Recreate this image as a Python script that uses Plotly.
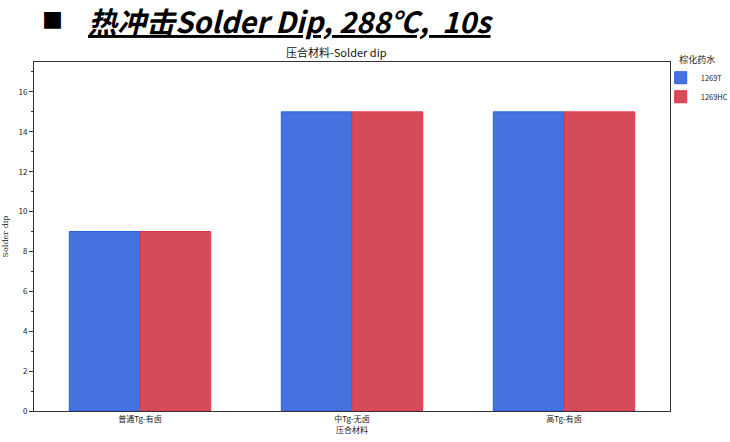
import plotly.graph_objects as go

categories = ["普通Tg-有卤", "中Tg-无卤", "高Tg-有卤"]
series_names = ["1269T", "1269HC"]
values_1269T = [9, 15, 15]
values_1269HC = [9, 15, 15]
fill_colors = ["#4472DE", "#D64B5A"]
line_colors = ["#2A60E6", "#E23444"]

fig = go.Figure()
for name, vals, fc, lc in zip(series_names, [values_1269T, values_1269HC], fill_colors, line_colors):
    fig.add_trace(go.Bar(x=categories, y=vals, name=name,
                         marker=dict(color=fc, line=dict(color=lc, width=1))))

font_cjk = "Noto Sans CJK SC, SimSun, serif"
fig.update_layout(
    width=730, height=442,
    margin=dict(l=34, r=60, t=62, b=31, autoexpand=False),
    plot_bgcolor="white", paper_bgcolor="white",
    barmode="group", bargap=0.333, bargroupgap=0,
    font=dict(family=font_cjk, size=8, color="#222"),
    showlegend=True,
    legend=dict(x=0.9854, y=1.03, xanchor="left", yanchor="top",
                title=dict(text="棕化药水", font=dict(size=9), side="top center"),
                font=dict(size=7.5), tracegroupgap=0, itemwidth=30,
                bgcolor="rgba(0,0,0,0)"),
    xaxis=dict(range=[-0.5, 2.5], showline=True, linecolor="#333", linewidth=1, mirror=True,
               ticks="", showgrid=False, automargin=False,
               title=dict(text="压合材料", font=dict(size=8), standoff=2)),
    yaxis=dict(range=[0, 17.5], dtick=2, showline=True, linecolor="#333", linewidth=1, mirror=True,
               ticks="outside", ticklen=4, tickcolor="#333", showgrid=False, zeroline=False,
               automargin=False,
               minor=dict(dtick=1, ticks="outside", ticklen=2, tickcolor="#333"),
               title=dict(text="Solder dip", font=dict(size=8, family="DejaVu Serif, serif"), standoff=8)),
)
fig.add_annotation(text="压合材料-Solder dip", xref="paper", yref="paper", x=0.5, y=1.0,
                   yanchor="bottom", showarrow=False, yshift=0, xshift=-16,
                   font=dict(size=11, color="#111", family=font_cjk))
fig.add_annotation(text="■", xref="paper", yref="paper", x=0.0, y=1.0, xanchor="left", yanchor="bottom",
                   xshift=6, yshift=26, showarrow=False,
                   font=dict(size=21, color="#000", family="Noto Sans CJK SC"))
fig.add_annotation(text="<b><i><u>热冲击Solder Dip, 288℃,  10s</u></i></b>", xref="paper", yref="paper",
                   x=0.0, y=1.0, xanchor="left", yanchor="bottom", xshift=52, yshift=19, showarrow=False,
                   font=dict(size=29, color="#000", family="Noto Sans CJK SC"))
fig.write_html("out.html", config={"displayModeBar": False},
               post_script="document.body.style.margin='0';")
